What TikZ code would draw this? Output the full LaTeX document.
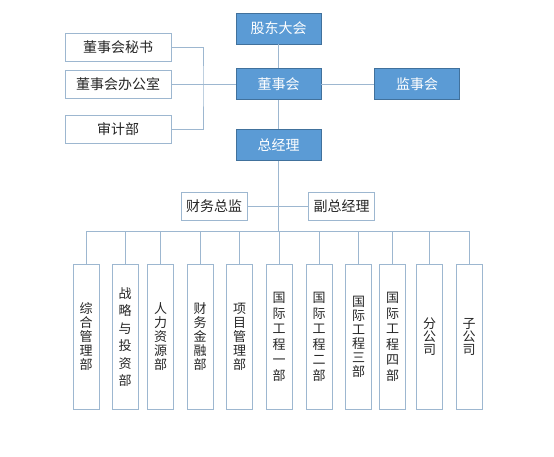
\documentclass[tikz,border=0pt]{standalone}
\usepackage{fontspec}
\setmainfont{Noto Sans CJK SC}
\usepackage{tikz}
\usetikzlibrary{positioning, calc}
\definecolor{orgblue}{HTML}{5B9BD5}
\definecolor{orgedge}{HTML}{41719C}
\definecolor{orgline}{HTML}{9DB7D0}
\definecolor{orgtext}{HTML}{262626}

\begin{document}
\begin{tikzpicture}[x=1pt, y=-1pt,
    board/.style={rectangle, draw=orgedge, fill=orgblue, line width=0.8pt, minimum width=85pt, minimum height=31pt, text=white, font=\fontsize{14}{17}\selectfont},
    office/.style={rectangle, draw=orgline, fill=white, line width=0.8pt, minimum width=106pt, minimum height=28pt, text=orgtext, font=\fontsize{14}{17}\selectfont},
    dept/.style={rectangle, draw=orgline, fill=white, line width=0.8pt, minimum width=26pt, minimum height=145pt, inner sep=0pt, align=center, text=orgtext, font=\fontsize{13}{#1}\selectfont},
    dept/.default=14,
    link/.style={draw=orgline, line width=0.8pt}
]
\useasboundingbox (0,0) rectangle (554,457);

% Top levels
\node[board] (sh) at (278.5,28.5) {股东大会};
\node[board] (bd) at (278.5,84) {董事会};
\node[board] (sv) at (417,84) {监事会};
\node[board] (ceo) at (278.5,145) {总经理};

% Board offices
\node[office] (sec) at (118,47) {董事会秘书};
\node[office] (off) at (118,84) {董事会办公室};
\node[office] (aud) at (118,129) {审计部};

% Deputies
\node[office, minimum width=66pt] (cfo) at (214,206) {财务总监};
\node[office, minimum width=66pt] (vp) at (341.5,206) {副总经理};

% Departments
\node[dept] (d1) at (86,337) {综\\合\\管\\理\\部};
\node[dept=17.5] (d2) at (125,337) {战\\略\\与\\投\\资\\部};
\node[dept] (d3) at (160.5,337) {人\\力\\资\\源\\部};
\node[dept] (d4) at (200,337) {财\\务\\金\\融\\部};
\node[dept] (d5) at (239.5,337) {项\\目\\管\\理\\部};
\node[dept=15.5] (d6) at (279,337) {国\\际\\工\\程\\一\\部};
\node[dept=15.5] (d7) at (319,337) {国\\际\\工\\程\\二\\部};
\node[dept] (d8) at (358.5,337) {国\\际\\工\\程\\三\\部};
\node[dept=15.5] (d9) at (392.5,337) {国\\际\\工\\程\\四\\部};
\node[dept=13] (d10) at (429.5,337) {分\\公\\司};
\node[dept=13] (d11) at (469,337) {子\\公\\司};

% Lines
\coordinate (br) at (203,84);
\coordinate (bus) at (278.5,231);
\draw[link] (sh) -- (bd);
\draw[link] (bd) -- (ceo);
\draw[link] (bd) -- (sv);
\draw[link] (off) -- (bd);
\draw[link] (sec.east) -| (br) |- (aud.east);
\draw[link] (ceo) -- (bus);
\draw[link] (cfo) -- (vp);
\draw[link] (d1.north |- bus) -- (d11.north |- bus);
\foreach \i in {1,...,11}
    \draw[link] (d\i.north) -- (d\i.north |- bus);

\end{tikzpicture}
\end{document}
